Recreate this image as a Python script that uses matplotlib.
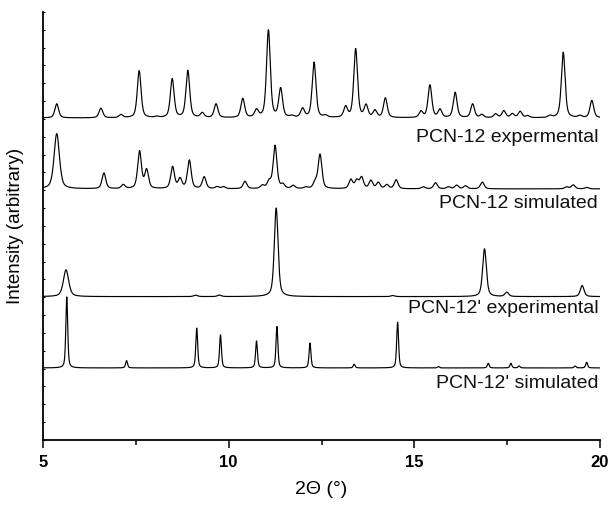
import numpy as np
import matplotlib
matplotlib.use("Agg")
import matplotlib.pyplot as plt

plt.rcParams['font.family'] = ['Liberation Sans', 'DejaVu Sans']

# ---- data: peak positions (2theta, deg) and heights (arb.) ----
exp12_pos = [5.37, 6.56, 7.10, 7.59, 8.06, 8.48, 8.90, 9.29, 9.66, 10.38, 10.75, 11.07,
             11.40, 11.70, 11.99, 12.30, 12.61, 13.15, 13.42, 13.70, 13.94, 14.22, 15.18,
             15.42, 15.69, 16.10, 16.57, 16.82, 17.19, 17.41, 17.64, 17.85, 18.05, 18.65,
             19.01, 19.46, 19.78]
exp12_h = [0.79, 0.54, 0.17, 2.64, 0.06, 2.17, 2.64, 0.26, 0.77, 1.07, 0.41, 4.90,
           1.61, 0.08, 0.49, 3.10, 0.11, 0.58, 3.85, 0.67, 0.39, 1.10, 0.34,
           1.83, 0.45, 1.42, 0.77, 0.17, 0.21, 0.39, 0.22, 0.35, 0.11, 0.11,
           3.68, 0.11, 0.97]

sim12_pos = [5.37, 6.64, 7.16, 7.60, 7.79, 8.49, 8.69, 8.94, 9.34, 9.69, 9.86, 10.44,
             10.91, 11.09, 11.25, 11.46, 11.74, 12.08, 12.33, 12.46, 13.29, 13.45, 13.58,
             13.83, 14.03, 14.26, 14.51, 15.24, 15.57, 15.92, 16.14, 16.38, 16.83, 19.10,
             19.28, 19.64]
sim12_h = [3.10, 0.88, 0.22, 2.09, 1.03, 1.22, 0.54, 1.59, 0.66, 0.11, 0.11, 0.41,
           0.17, 0.39, 2.41, 0.22, 0.17, 0.08, 0.34, 1.91, 0.50, 0.45, 0.62,
           0.45, 0.34, 0.22, 0.50, 0.11, 0.34, 0.11, 0.20, 0.17, 0.38, 0.11,
           0.22, 0.08]

exp12p_pos = [5.62, 9.11, 9.75, 11.28, 14.42, 16.89, 17.49, 19.52]
exp12p_h = [1.50, 0.08, 0.08, 4.97, 0.06, 2.68, 0.24, 0.62]

sim12p_pos = [5.64, 7.25, 9.14, 9.78, 10.75, 11.30, 12.19, 13.38, 14.55, 15.65, 16.99,
              17.60, 17.82, 19.33, 19.64]
sim12p_h = [3.98, 0.41, 2.23, 1.85, 1.51, 2.32, 1.39, 0.21, 2.56, 0.08, 0.26,
            0.26, 0.11, 0.11, 0.32]

labels = ["PCN-12 expermental", "PCN-12 simulated", "PCN-12' experimental", "PCN-12' simulated"]
offsets = [18.06, 14.08, 8.04, 4.04]
label_y = [16.95, 13.25, 7.4, 3.15]
fwhm = [0.12, 0.12, 0.12, 0.06]
first_fwhm = [0.12, 0.17, 0.17, 0.06]

x_ticks = [5, 10, 15, 20]

series = [(exp12_pos, exp12_h), (sim12_pos, sim12_h),
          (exp12p_pos, exp12p_h), (sim12p_pos, sim12p_h)]


def profile(x, pos, h, w, w0):
    """pseudo-Voigt sum of the listed peaks"""
    y = np.zeros_like(x)
    for i, (p, a) in enumerate(zip(pos, h)):
        ww = w0 if i == 0 else w
        d = (x - p) / (ww / 2)
        lor = 1.0 / (1.0 + d ** 2)
        gau = np.exp(-np.log(2) * d ** 2)
        y += a * (0.5 * lor + 0.5 * gau)
    return y


fig = plt.figure(figsize=(6.10, 5.08), dpi=100)
ax = fig.add_axes([0.0705, 0.1339, 0.9131, 0.8425])

x = np.linspace(5, 20, 6001)
for (pos, h), off, w, w0 in zip(series, offsets, fwhm, first_fwhm):
    ax.plot(x, off + profile(x, pos, h, w, w0), color='black', lw=0.85)

for lab, ly in zip(labels, label_y):
    ax.text(19.95, ly, lab, ha='right', va='center', fontsize=14, color='#111111')

ax.set_xlim(5, 20)
ax.set_ylim(0, 24)
ax.set_xticks(x_ticks)
ax.set_xticks([7.5, 12.5, 17.5], minor=True)
ax.set_xticklabels([str(t) for t in x_ticks], fontweight='bold', fontsize=12)
ax.set_yticks(np.arange(0, 25, 1))
ax.set_yticklabels([])
ax.tick_params(axis='x', which='major', direction='out', length=6, width=1.1, pad=5)
ax.tick_params(axis='x', which='minor', direction='out', length=3.5, width=1.1)
ax.tick_params(axis='y', which='major', direction='in', length=1.5, width=0.8)

for s in ['top', 'right']:
    ax.spines[s].set_visible(False)
for s in ['left', 'bottom']:
    ax.spines[s].set_linewidth(1.3)

ax.set_xlabel('2\u0398 (\u00b0)', fontsize=14, labelpad=8)
ax.set_ylabel('Intensity (arbitrary)', fontsize=13.5, labelpad=10)

fig.savefig('out.png', dpi=100)
